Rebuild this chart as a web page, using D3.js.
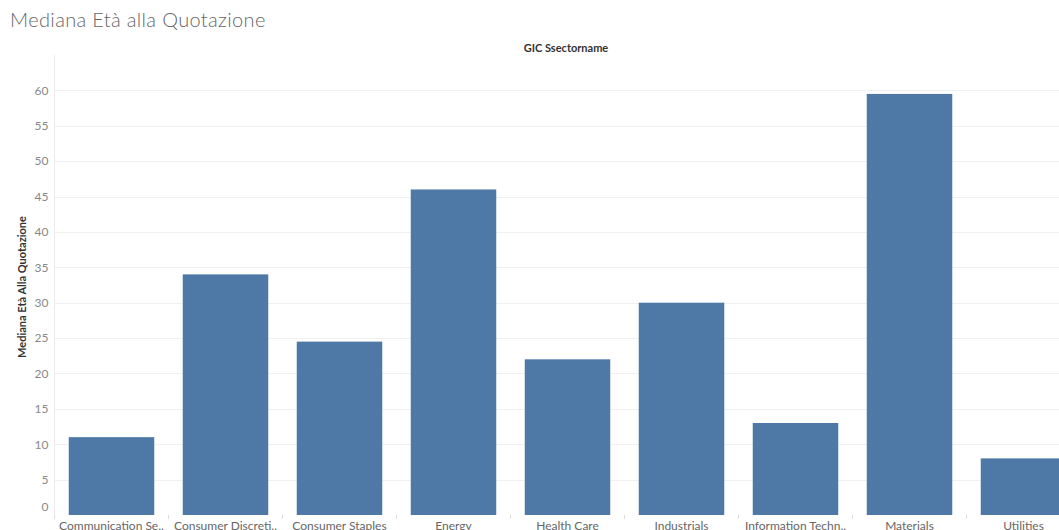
<!DOCTYPE html>
<html>
<head>
<meta charset="utf-8">
<script src="https://cdn.jsdelivr.net/npm/d3@7"></script>
<style>
  html, body { margin: 0; padding: 0; background: #fff; overflow: hidden; }
  svg { display: block; font-family: Lato, "Open Sans", sans-serif; }
</style>
</head>
<body>
<svg id="chart" width="1059" height="530"></svg>
<script>
// Median age at listing, by GICS sector
const categories = [
  "Communication Se..", "Consumer Discreti..", "Consumer Staples", "Energy",
  "Health Care", "Industrials", "Information Techn..", "Materials", "Utilities"
];
const values = [11, 34, 24.5, 46, 22, 30, 13, 59.5, 8];
const yTicks = [0, 5, 10, 15, 20, 25, 30, 35, 40, 45, 50, 55, 60];

(function () {
  const svg = d3.select("#chart");
  const W = 1059;
  const plotLeft = 54.5, plotBottom = 515, plotTop = 55;
  const step = 114;

  const x = d3.scaleBand()
    .domain(categories)
    .range([plotLeft, plotLeft + step * categories.length])
    .paddingInner(0.25)
    .paddingOuter(0.125);

  const y = d3.scaleLinear().domain([0, 65]).range([plotBottom, plotTop]);

  // Title
  svg.append("text")
    .attr("x", 10).attr("y", 27)
    .attr("fill", "#666")
    .attr("font-size", 20)
    .attr("font-weight", 300)
    .attr("letter-spacing", 0.35)
    .text("Mediana Età alla Quotazione");

  // Column header
  svg.append("text")
    .attr("x", 566).attr("y", 52)
    .attr("text-anchor", "middle")
    .attr("fill", "#333")
    .attr("font-size", 11)
    .attr("font-weight", "bold")
    .text("GIC Ssectorname");

  // Gridlines
  svg.append("g")
    .selectAll("line")
    .data(yTicks.filter(d => d > 0))
    .join("line")
    .attr("x1", plotLeft).attr("x2", W)
    .attr("y1", d => Math.round(y(d)) + 0.5)
    .attr("y2", d => Math.round(y(d)) + 0.5)
    .attr("stroke", "#f0f0f0");

  // Vertical axis rule
  svg.append("line")
    .attr("x1", 54.5).attr("x2", 54.5)
    .attr("y1", plotTop).attr("y2", plotBottom + 3)
    .attr("stroke", "#ececec");

  // Y axis labels
  const yAxis = d3.axisLeft(y).tickValues(yTicks).tickSize(0).tickPadding(6);
  const gy = svg.append("g").attr("transform", `translate(${plotLeft},0)`).call(yAxis);
  gy.select(".domain").remove();
  gy.selectAll("text")
    .attr("fill", "#888")
    .attr("font-size", 12)
    .attr("font-family", "Lato, 'Open Sans', sans-serif")
    .attr("dy", d => d === 0 ? "-0.35em" : "0.32em");

  // Y axis title
  svg.append("text")
    .attr("transform", `translate(26,${(plotTop + plotBottom) / 2 + 2}) rotate(-90)`)
    .attr("text-anchor", "middle")
    .attr("fill", "#333")
    .attr("font-size", 11)
    .attr("font-weight", "bold")
    .text("Mediana Età Alla Quotazione");

  // Bars
  svg.append("g")
    .selectAll("rect")
    .data(categories.map((c, i) => ({ c, v: values[i] })))
    .join("rect")
    .attr("x", d => x(d.c))
    .attr("width", x.bandwidth())
    .attr("y", d => y(d.v))
    .attr("height", d => y(0) - y(d.v))
    .attr("fill", "#4e79a7");

  // X axis: band separators and labels
  const bandEdges = categories.map((c, i) => 54 + step * i);
  svg.append("g")
    .selectAll("line")
    .data(bandEdges)
    .join("line")
    .attr("x1", d => d + 0.5).attr("x2", d => d + 0.5)
    .attr("y1", plotBottom).attr("y2", plotBottom + 4)
    .attr("stroke", "#ddd");

  svg.append("g")
    .selectAll("text")
    .data(categories)
    .join("text")
    .attr("x", d => x(d) + x.bandwidth() / 2)
    .attr("y", 530)
    .attr("text-anchor", "middle")
    .attr("fill", "#666")
    .attr("font-size", 12)
    .text(d => d);
})();
</script>
</body>
</html>
